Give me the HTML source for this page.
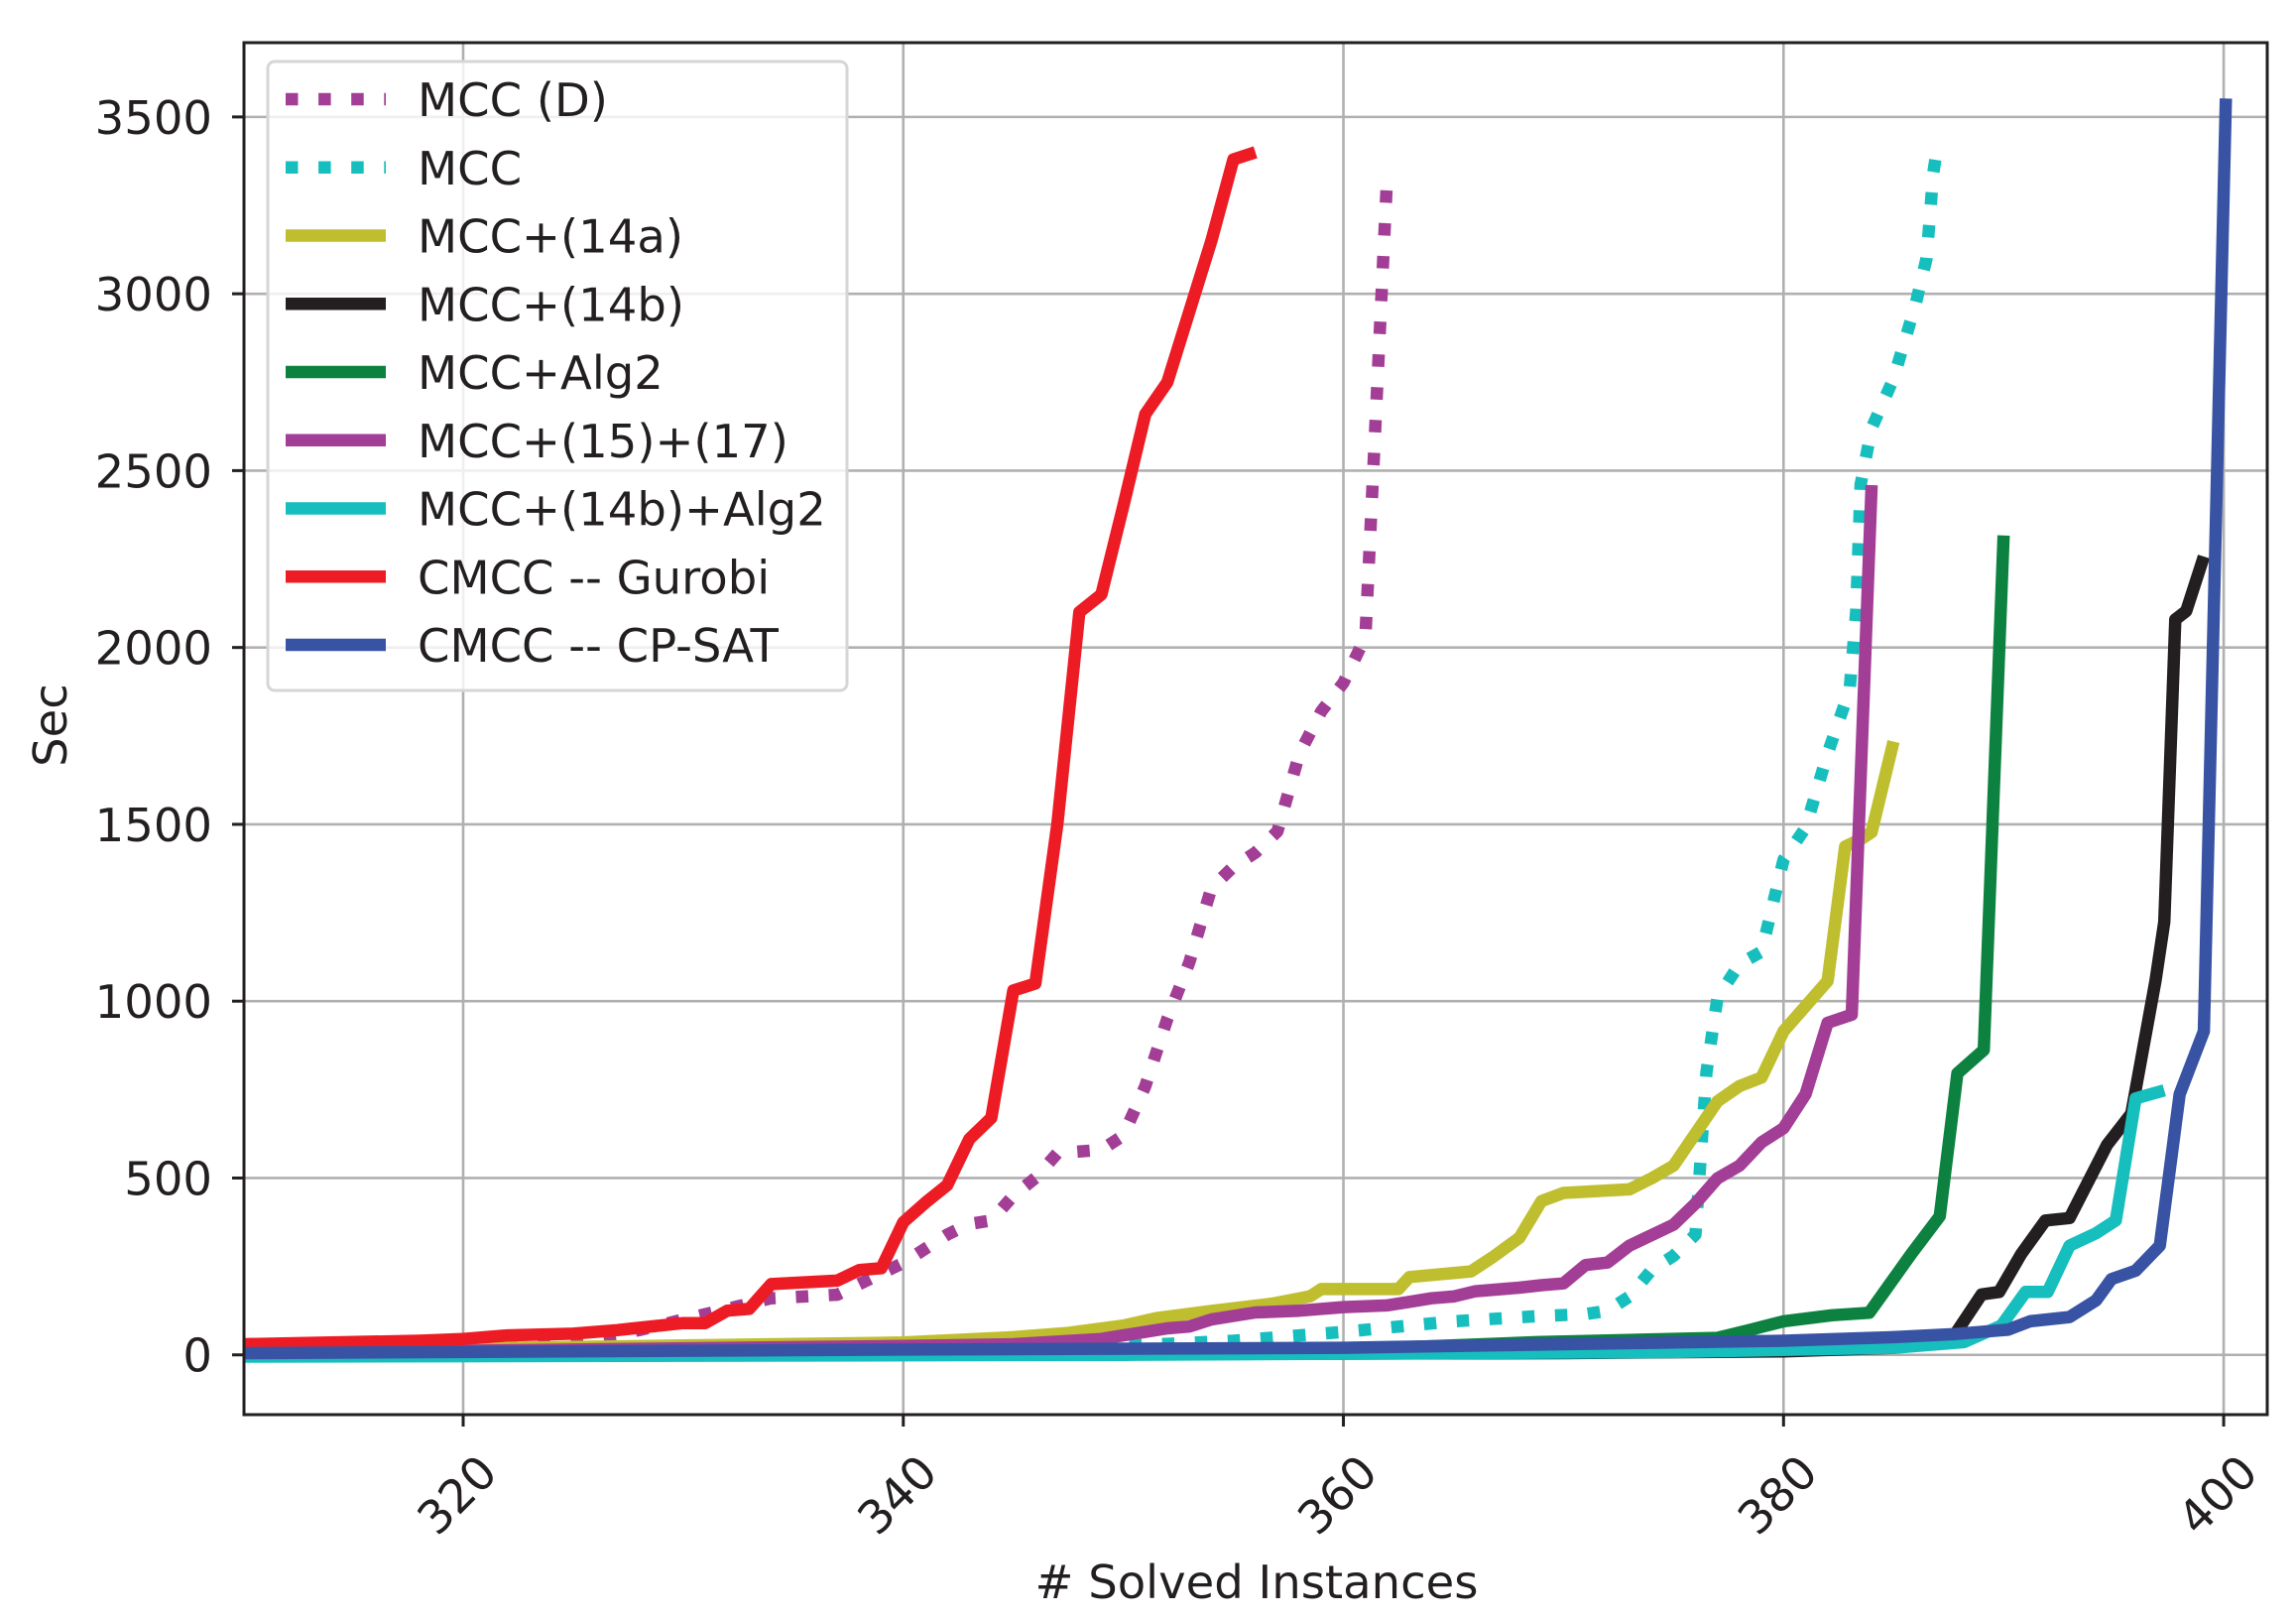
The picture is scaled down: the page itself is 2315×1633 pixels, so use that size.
<!DOCTYPE html>
<html><head><meta charset="utf-8">
<style>
html,body{margin:0;padding:0;background:#fff;}
svg{display:block;font-family:"DejaVu Sans","Liberation Sans",sans-serif;}
</style></head>
<body>
<svg id="chart" width="2315" height="1633" viewBox="0 0 2315 1633" xmlns="http://www.w3.org/2000/svg">
<defs><clipPath id="plotclip"><rect x="246" y="43" width="2040" height="1383"/></clipPath></defs>
<g id="grid"></g>
<g id="series" clip-path="url(#plotclip)"></g>
<rect x="246" y="43" width="2040" height="1383" fill="none" stroke="#231f20" stroke-width="3"/>
<g id="ticks"></g>
<text x="1267" y="1611" font-size="46.5" text-anchor="middle" fill="#231f20"># Solved Instances</text>
<text x="0" y="0" font-size="46.5" text-anchor="middle" fill="#231f20" transform="translate(67,731) rotate(-90)">Sec</text>
<g id="legend"></g>
</svg>
<script>
const xTicks = [320, 340, 360, 380, 400];
const yTicks = [0, 500, 1000, 1500, 2000, 2500, 3000, 3500];
const seriesNames = ["MCC (D)", "MCC", "MCC+(14a)", "MCC+(14b)", "MCC+Alg2", "MCC+(15)+(17)", "MCC+(14b)+Alg2", "CMCC -- Gurobi", "CMCC -- CP-SAT"];

const mccDX = [310,318,322,325,328,330,332,334,337,339,340,342,343,344,345,346,347,349,350,351,352,353,354,355,356,357,358,359,360,361,362];
const mccDY = [0,5,20,40,70,100,130,160,170,230,260,340,370,380,450,500,570,580,620,760,950,1110,1320,1380,1420,1480,1700,1820,1900,2030,3350];

const mccX = [310,345,350,355,360,365,369,371,372,373,374,375,376,376.5,377,378,379,380,381,382,383,383.3,383.5,384,385,386,386.5,386.8,387];
const mccY = [0,15,25,40,65,95,110,115,125,165,240,280,340,800,1010,1105,1140,1400,1490,1700,1880,2100,2460,2620,2760,2970,3100,3340,3420];

const m14aX = [310,340,345,347.5,350,351.5,354,356.8,358.5,359,362.5,363,365.8,366.8,368,369,370,373,374,375,377,378,379,380,381,382,382.8,383.6,384,385];
const m14aY = [10,35,50,62,83,104,124,145,166,186,186,220,236,277,331,435,458,468,499,535,717,760,784,915,986,1057,1437,1461,1478,1734];

const m14bX = [310,350,370,380,385,387,387.8,389,389.8,390.8,391.9,393,394.7,395.8,396.9,397.3,397.8,398.3,399.1];
const m14bY = [0,2,5,10,20,40,59,171,178,285,380,387,594,682,1057,1224,2079,2103,2257];

const alg2X = [310,350,360,368.8,377,378.5,380,382.2,383.9,385.8,387.1,387.9,389.1,390];
const alg2Y = [0,5,15,36,48,71,95,112,119,285,392,796,862,2317];

const m1517X = [310,340,345,349,350,351,352,353,354,355,356,358,360,362,363,364,365,366,368,369,370,371,372,373,375,376,377,378,379,380,381,382,383.1,384];
const m1517Y = [5,25,30,45,55,65,75,80,100,110,120,125,135,140,150,160,165,180,190,197,202,254,261,309,368,428,499,535,601,641,737,939,962,2459];

const m14bAlgX = [310,350,375,385,388.2,389.9,391,392,393,394.2,395.1,396,397.3];
const m14bAlgY = [-5,0,8,20,36,83,178,178,309,344,380,725,748];

const gurobiX = [310,318,320,322,325,327,330,331,332,333,334,337,338,339,340,341,342,343,344,345,346,347,348,349,350,351,352,353,354,355,356];
const gurobiY = [30,40,45,55,60,70,90,90,125,130,200,210,240,245,375,430,480,610,670,1030,1050,1500,2100,2150,2400,2660,2750,2950,3150,3380,3400];

const cpsatX = [310,340,360,370,380,385,387.8,390.2,391.2,393,394.2,394.9,396,397.1,398,399.1,400.1];
const cpsatY = [5,15,20,30,40,50,59,71,95,107,154,214,238,309,737,915,3552];

const NS = "http://www.w3.org/2000/svg";
const L = 246, R = 2286, T = 43, B = 1426;
const xMin = 310.04, xMax = 401.98, yMin = -169, yMax = 3710;
function sx(v){ return L + (v - xMin) / (xMax - xMin) * (R - L); }
function sy(v){ return B - (v - yMin) / (yMax - yMin) * (B - T); }
function mk(tag, attrs, parent){
  const e = document.createElementNS(NS, tag);
  for (const k in attrs) e.setAttribute(k, attrs[k]);
  parent.appendChild(e);
  return e;
}
const grid = document.getElementById('grid');
const ticks = document.getElementById('ticks');
xTicks.forEach(v => {
  const gl = mk('line', {x1: sx(v), x2: sx(v), y1: T, y2: B, stroke: '#b0b0b0', 'stroke-width': 2.6}, grid);
  
  
  const tm = mk('line', {x1: sx(v), x2: sx(v), y1: B, y2: B + 12, stroke: '#231f20', 'stroke-width': 3}, ticks);
  
  
  const tl = mk('text', {x: 0, y: 0, 'font-size': 46.5, 'text-anchor': 'middle', 'dominant-baseline': 'central', fill: '#231f20', transform: 'translate(' + (sx(v) - 6) + ',1507) rotate(-45)'}, ticks);
  tl.textContent = v;
  
  
});
yTicks.forEach(v => {
  const gl = mk('line', {x1: L, x2: R, y1: sy(v), y2: sy(v), stroke: '#b0b0b0', 'stroke-width': 2.6}, grid);
  
  
  const tm = mk('line', {x1: L - 12, x2: L, y1: sy(v), y2: sy(v), stroke: '#231f20', 'stroke-width': 3}, ticks);
  
  
  const tl = mk('text', {x: 214, y: sy(v) + 17, 'font-size': 46.5, 'text-anchor': 'end', fill: '#231f20'}, ticks);
  tl.textContent = v;
  
  
});

const seriesDefs = [
  {xs: mccDX, ys: mccDY, color: '#a33e96', dash: true, key: 'mcc-d'},
  {xs: mccX, ys: mccY, color: '#17bebe', dash: true, key: 'mcc'},
  {xs: m14aX, ys: m14aY, color: '#bfbe2f', dash: false, key: 'mcc-14a'},
  {xs: m14bX, ys: m14bY, color: '#231f20', dash: false, key: 'mcc-14b'},
  {xs: alg2X, ys: alg2Y, color: '#0d8240', dash: false, key: 'mcc-alg2'},
  {xs: m1517X, ys: m1517Y, color: '#a33e96', dash: false, key: 'mcc-15-17'},
  {xs: m14bAlgX, ys: m14bAlgY, color: '#17bebe', dash: false, key: 'mcc-14b-alg2'},
  {xs: gurobiX, ys: gurobiY, color: '#ed1c24', dash: false, key: 'cmcc-gurobi'},
  {xs: cpsatX, ys: cpsatY, color: '#3853a4', dash: false, key: 'cmcc-cpsat'}
];
const sg = document.getElementById('series');
seriesDefs.forEach(s => {
  const pts = s.xs.map((x, i) => sx(x).toFixed(1) + ',' + sy(s.ys[i]).toFixed(1)).join(' ');
  const a = {points: pts, fill: 'none', stroke: s.color, 'stroke-width': 12.5, 'stroke-linejoin': 'round'};
  if (s.dash) { a['stroke-dasharray'] = '12.5 20.6'; a['stroke-linecap'] = 'butt'; }
  const p = mk('polyline', a, sg);
  
  
});

const lg = document.getElementById('legend');
const box = mk('rect', {x: 270, y: 62, width: 584, height: 634, rx: 7, fill: 'rgba(255,255,255,0.8)', stroke: '#d6d6d6', 'stroke-width': 3}, lg);


seriesDefs.forEach((s, i) => {
  const y = 100 + i * 68.75;
  const g = mk('g', {}, lg);
  
  
  const a = {x1: 288, x2: 389, y1: y, y2: y, stroke: s.color, 'stroke-width': 12.5};
  if (s.dash) a['stroke-dasharray'] = '12.5 20.6';
  const h = mk('line', a, g);
  
  
  const t = mk('text', {x: 421, y: y + 17, 'font-size': 46.5, fill: '#231f20'}, g);
  t.textContent = seriesNames[i];
  
  
});
</script>
</body></html>
